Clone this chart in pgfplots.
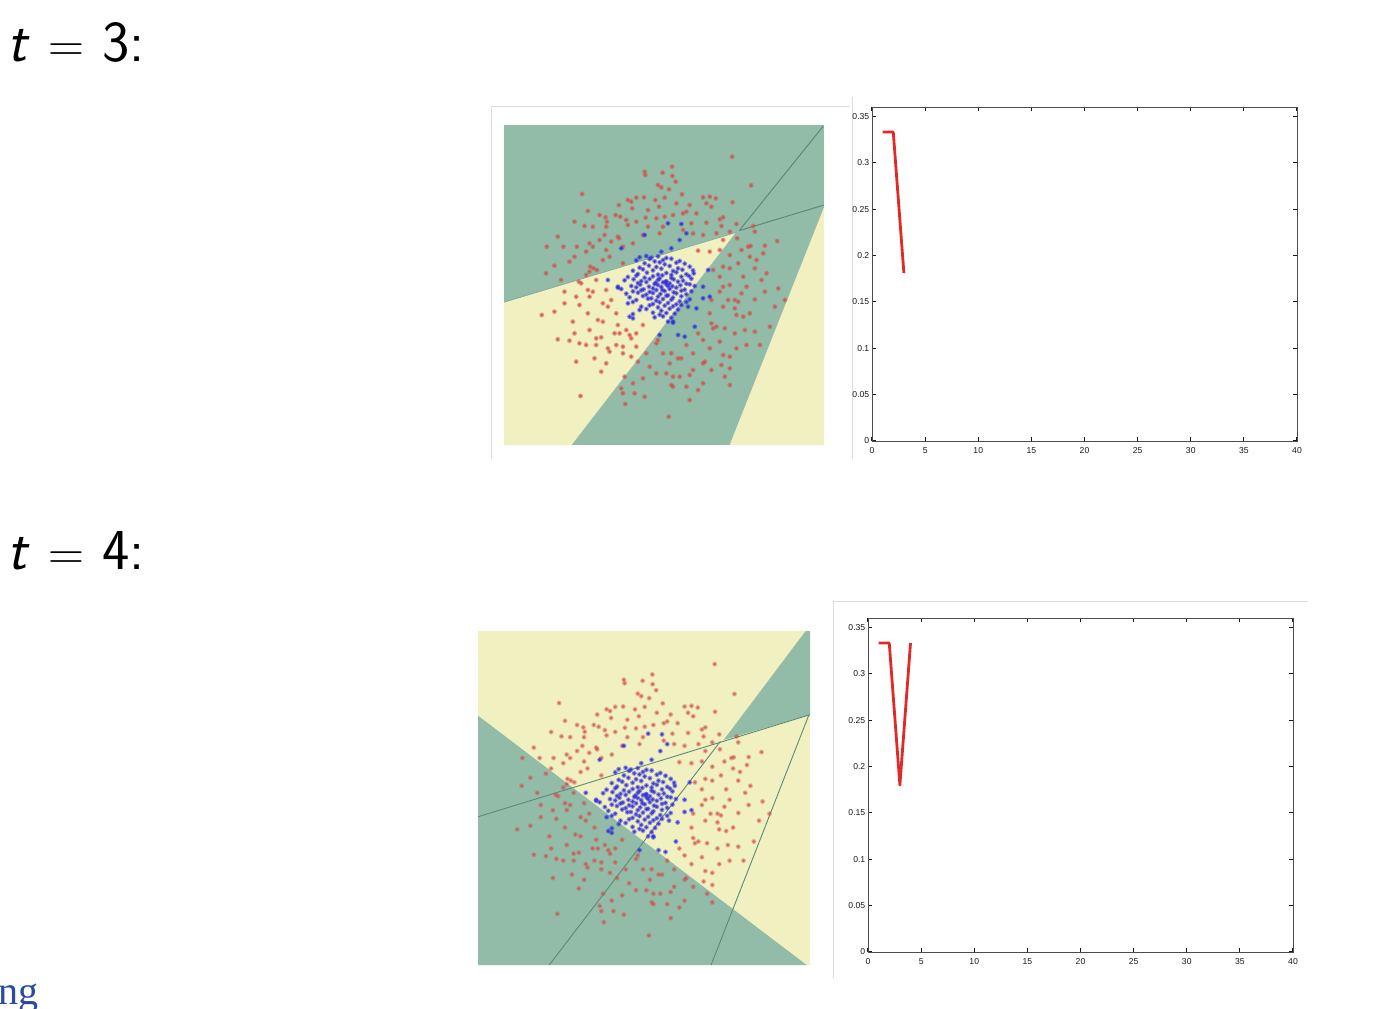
\documentclass[border=0pt]{standalone}
\usepackage{pgfplots}
\usepackage{pgfplotstable}
\usepackage{fontspec}
\pgfplotsset{compat=1.18}
\newfontfamily\ticksf{Liberation Sans}
\newfontfamily\serifb{Liberation Serif}
\definecolor{bgreen}{HTML}{92BBA8}
\definecolor{bcream}{HTML}{F1F0C0}
\definecolor{bline}{HTML}{5E8A78}
\definecolor{ptred}{HTML}{D4504A}
\definecolor{ptblue}{HTML}{3030E0}
\definecolor{curve}{HTML}{E02A2A}
\definecolor{framegray}{HTML}{DDDDDD}
\definecolor{navytxt}{HTML}{2A4B9B}
\pgfplotstableread{
x y
727 170
784 256
465 215
467 225
519 218
547 200
548 228
558 245
505 255
515 262
538 268
577 283
278 282
463 292
440 293
497 300
525 293
640 292
660 290
678 295
415 300
425 305
388 315
428 325
508 320
600 315
590 335
650 310
665 320
295 333
348 352
392 350
410 360
468 353
525 350
550 345
520 380
580 340
690 358
700 352
728 307
255 365
285 378
310 380
352 365
415 375
440 365
475 380
605 370
650 368
695 378
740 372
790 378
795 395
205 410
300 430
310 440
345 405
385 410
388 415
365 425
350 450
262 440
222 440
172 440
460 405
510 400
610 400
640 405
680 400
720 395
775 440
782 438
825 437
862 423
755 450
820 460
720 465
690 450
660 455
625 452
240 485
195 497
170 520
340 480
360 470
302 500
312 505
322 510
300 515
290 525
400 490
268 545
275 550
320 540
295 570
310 575
225 575
300 590
340 610
365 600
270 615
195 635
157 645
295 640
325 660
340 665
250 665
355 620
385 675
410 690
420 705
390 700
205 718
240 722
270 730
320 715
335 712
320 735
380 735
400 740
355 745
360 755
290 735
425 715
460 675
260 785
315 775
335 815
350 790
425 770
400 760
445 785
405 830
273 888
395 865
400 880
430 850
465 890
407 912
537 950
795 505
830 520
760 530
720 555
700 560
690 575
715 600
735 600
745 605
795 598
825 575
865 565
885 600
855 620
735 625
740 645
665 670
670 685
680 680
705 685
760 650
840 680
690 725
700 765
625 700
610 760
645 785
640 790
575 775
545 760
505 720
500 730
540 790
565 775
500 820
530 820
550 830
570 830
600 825
610 810
695 795
720 805
705 830
720 855
625 870
550 860
545 855
810 735
740 745
795 695
720 505
670 510
700 500
665 600
690 530
780 470
800 480
745 490
770 560
815 540
660 640
700 620
755 580
780 640
640 720
660 745
590 735
520 760
480 800
460 835
435 880
765 690
735 700
770 735
720 770
665 810
640 850
590 860
600 900
470 760
440 740
375 700
300 690
255 700
225 610
260 590
350 570
380 640
440 700
350 380
330 420
290 455
400 440
430 430
500 355
560 310
620 340
580 390
475 330
378 345
330 345
255 470
215 540
742 415
700 420
}\redpts
\pgfplotstableread{
x y
535 370
575 372
465 405
570 420
545 445
395 445
515 455
655 510
640 560
660 590
640 595
595 620
620 625
550 665
615 680
565 705
585 710
510 705
385 560
355 540
420 650
430 655
590 400
450 472
470 468
485 473
505 469
530 474
440 481
480 477
495 484
520 480
545 476
570 483
465 490
510 487
525 493
560 488
585 491
450 503
478 497
500 501
540 498
565 505
600 500
430 512
460 508
490 511
515 506
550 513
578 509
610 511
445 522
472 518
505 524
530 519
560 517
590 523
612 520
415 531
440 527
465 533
490 529
518 526
545 534
575 530
598 528
405 541
432 538
455 543
480 537
505 540
530 544
552 538
580 542
605 536
445 549
470 546
495 552
520 547
540 550
565 545
590 551
425 558
452 554
478 560
505 555
530 553
548 559
572 556
600 553
615 558
385 563
395 567
440 562
462 568
490 565
515 561
540 567
560 563
585 569
430 574
455 571
480 576
500 570
525 573
552 577
575 572
605 574
410 581
445 578
470 584
490 579
512 582
535 586
560 580
590 583
420 592
460 588
485 595
505 590
530 587
550 593
575 589
440 600
475 596
500 602
520 597
545 599
570 604
600 598
415 610
430 606
490 612
510 607
535 609
560 613
590 606
455 620
480 616
505 622
525 617
550 619
575 615
450 630
470 627
515 632
540 626
565 629
430 642
490 638
510 644
530 639
555 641
495 652
520 649
545 653
535 665
550 668
528 545
535 558
518 570
545 525
510 535
498 548
}\bluepts
\pgfplotsset{
 panel/.style={scale only axis, axis lines=none, xmin=44, xmax=1002, ymin=75, ymax=1035, y dir=reverse, clip=true},
 curveax/.style={scale only axis, xmin=0, xmax=40, ymin=0, ymax=0.36,
   xtick={0,5,...,40}, ytick={0,0.05,...,0.35},
   yticklabels={0,0.05,0.1,0.15,0.2,0.25,0.3,0.35},
   xticklabels={0,5,10,15,20,25,30,35,40},
   tick align=inside, major tick length=2pt, tick pos=both,
   tick style={color=black!90, line width=0.55pt},
   axis line style={color=black!70, line width=0.5pt},
   tick label style={font=\ticksf\fontsize{4.3}{4.8}\selectfont, color=black!90, inner sep=1pt},
   /pgf/number format/assume math mode=true,
   every x tick label/.append style={yshift=-2pt},
   every y tick label/.append style={xshift=-0.2pt}}
}
\begin{document}
\begin{tikzpicture}[x=1pt,y=1pt]
\path[use as bounding box] (0,0) rectangle (692,504);
\begin{axis}[at={(0,0)}, anchor=south west, scale only axis, width=692pt, height=504pt,
  axis lines=none, xmin=0, xmax=1384, ymin=0, ymax=1008, y dir=reverse]
\addplot[framegray, line width=0.5pt] coordinates {(491,459) (491,106) (850,106)};
\addplot[framegray, line width=0.5pt] coordinates {(852,97) (852,459)};
\addplot[framegray, line width=0.5pt] coordinates {(833,978) (833,601) (1308,601)};
\end{axis}
\begin{axis}[panel, at={(252pt,281.5pt)}, anchor=south west, width=160pt, height=160pt]
\addplot[fill=bgreen, draw=none] coordinates {(44,75) (1002,75) (1002,1035) (44,1035)} -- cycle;
\addplot[fill=bcream, draw=none] coordinates {(44,608) (740,397) (248,1035) (44,1035)} -- cycle;
\addplot[fill=bcream, draw=none] coordinates {(1002,318) (1002,1035) (718,1035)} -- cycle;
\addplot[color=bline, line width=0.5pt] coordinates {(748,392) (1000,78)};
\addplot[color=bline, line width=0.5pt] coordinates {(748,392) (1002,315)};
\addplot[color=bline!70, line width=0.4pt] coordinates {(44,606) (740,397)};
\addplot[color=bline!60, line width=0.4pt] coordinates {(248,1035) (740,397)};
\addplot[color=bline!60, line width=0.4pt] coordinates {(718,1035) (1002,318)};
\addplot[only marks, mark=*, mark size=1.1pt, color=ptred, opacity=0.3, mark options={solid, draw=none, fill=ptred}] table[x=x,y=y] {\redpts};
\addplot[only marks, mark=*, mark size=0.6pt, color=ptred, opacity=0.7, mark options={solid, draw=none, fill=ptred}] table[x=x,y=y] {\redpts};
\addplot[only marks, mark=*, mark size=1.1pt, color=ptblue, opacity=0.3, mark options={solid, draw=none, fill=ptblue}] table[x=x,y=y] {\bluepts};
\addplot[only marks, mark=*, mark size=0.6pt, color=ptblue, opacity=0.8, mark options={solid, draw=none, fill=ptblue}] table[x=x,y=y] {\bluepts};
\end{axis}
\begin{axis}[panel, at={(239pt,21.5pt)}, anchor=south west, width=166pt, height=167pt]
\addplot[fill=bcream, draw=none] coordinates {(44,75) (1002,75) (1002,1035) (44,1035)} -- cycle;
\addplot[fill=bgreen, draw=none] coordinates {(44,318.4) (992.4,1035) (44,1035)} -- cycle;
\addplot[fill=bgreen, draw=none] coordinates {(753,388) (989.5,75) (1002,75) (1002,315.5)} -- cycle;
\addplot[color=bline, line width=0.45pt] coordinates {(44,608.9) (1002,315.5)};
\addplot[color=bline, line width=0.45pt] coordinates {(249.5,1035) (743.5,392)};
\addplot[color=bline, line width=0.45pt] coordinates {(716.5,1035) (999,315.5)};
\addplot[only marks, mark=*, mark size=1.1pt, color=ptred, opacity=0.25, mark options={solid, draw=none, fill=ptred}] table[x=x,y=y] {\redpts};
\addplot[only marks, mark=*, mark size=0.6pt, color=ptred, opacity=0.6, mark options={solid, draw=none, fill=ptred}] table[x=x,y=y] {\redpts};
\addplot[only marks, mark=*, mark size=1.1pt, color=ptblue, opacity=0.3, mark options={solid, draw=none, fill=ptblue}] table[x=x,y=y] {\bluepts};
\addplot[only marks, mark=*, mark size=0.6pt, color=ptblue, opacity=0.75, mark options={solid, draw=none, fill=ptblue}] table[x=x,y=y] {\bluepts};
\end{axis}
\begin{axis}[curveax, at={(436pt,283.5pt)}, anchor=south west, width=212.5pt, height=167pt]
\addplot[color=curve, line width=1.4pt, line join=round] coordinates {(1,0.333) (2,0.333) (3,0.181)};
\end{axis}
\begin{axis}[curveax, at={(434pt,28pt)}, anchor=south west, width=212.5pt, height=167pt]
\addplot[color=curve, line width=1.4pt, line join=round] coordinates {(1,0.333) (2,0.333) (3,0.18) (4,0.333)};
\end{axis}
\node[anchor=base west, inner sep=0pt, font=\sffamily\fontsize{29}{33}\selectfont] at (3.5,473) {\textit{t} $=$ 3:};
\node[anchor=base west, inner sep=0pt, font=\sffamily\fontsize{29}{33}\selectfont] at (3.5,219.5) {\textit{t} $=$ 4:};
\node[anchor=base east, inner sep=0pt, text=navytxt, font=\serifb\fontsize{20}{24}\selectfont] at (19.5,2) {ng};
\end{tikzpicture}
\end{document}
